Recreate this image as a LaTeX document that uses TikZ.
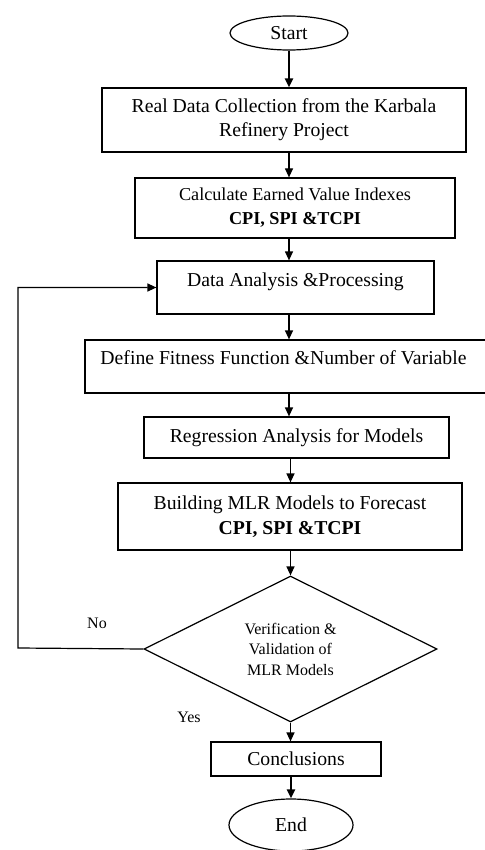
\documentclass[tikz,border=0pt]{standalone}
\usepackage{fontspec}
\setmainfont{Liberation Serif}
\usepackage{tikz}
\usetikzlibrary{shapes,arrows,arrows.meta,positioning}

\begin{document}
\begin{tikzpicture}[x=1pt, y=1pt, font=\fontsize{19.7}{25}\selectfont]
    \tikzstyle{box} = [rectangle, draw=black, line width=1.2pt, align=center, inner sep=2pt]
    \tikzstyle{term} = [ellipse, draw=black, line width=1.2pt, inner sep=0pt]
    \tikzstyle{check} = [diamond, draw=black, line width=1.2pt, inner sep=0pt, aspect=2, align=center, font=\fontsize{16}{20.5}\selectfont]
    \tikzstyle{arrow} = [-{Triangle[length=9pt,width=8pt]}, line width=1.2pt]
    \tikzstyle{lbl} = [font=\fontsize{16}{20}\selectfont]

    \useasboundingbox (0,0) rectangle (484,-850);

    \node [term, minimum width=118, minimum height=34] (start) at (289,-33) {Start};
    \node [box, minimum width=364, minimum height=64, font=\fontsize{19.7}{24}\selectfont] (collect) at (284,-120) {Real Data Collection from the Karbala\\Refinery Project};
    \node [box, minimum width=320, minimum height=60, font=\fontsize{18.2}{24}\selectfont] (indexes) at (295,-208) {Calculate Earned Value Indexes\\\textbf{CPI, SPI \&TCPI}};
    \node [box, minimum width=277, minimum height=53, text depth=16pt] (analysis) at (295.5,-287.5) {Data Analysis \&Processing};
    \node [box, minimum width=410, minimum height=53, text depth=17pt] (fitness) at (290,-366.5) {\hspace*{-13pt}Define Fitness Function \&Number of Variable};
    \node [box, minimum width=305, minimum height=41] (regress) at (296.5,-437.5) {Regression Analysis for Models};
    \node [box, minimum width=344, minimum height=67] (mlr) at (290,-516.5) {Building MLR Models to Forecast\\\textbf{CPI, SPI \&TCPI}};
    \node [check, minimum width=293, minimum height=146] (verify) at (290.5,-649) {Verification \&\\Validation of\\MLR Models};
    \node [box, minimum width=170, minimum height=34] (concl) at (296,-759) {Conclusions};
    \node [term, minimum width=124, minimum height=52] (end) at (291,-825) {End};

    \node [lbl] (no) at (97,-623) {No};
    \node [lbl] (yes) at (189,-717) {Yes};
    \coordinate (back) at (18,-648);

    \draw [arrow, line width=2pt] (start.south) -- (start.south |- collect.north);
    \draw [arrow] (collect.south -| start) -- (indexes.north -| start);
    \draw [arrow] (indexes.south -| start) -- (analysis.north -| start);
    \draw [arrow] (analysis.south -| start) -- (fitness.north -| start);
    \draw [arrow] (fitness.south -| start) -- (regress.north -| start);
    \draw [arrow] (regress.south -| verify) -- (mlr.north -| verify);
    \draw [arrow] (mlr.south -| verify) -- (verify.north);
    \draw [arrow] (verify.south) -- (verify.south |- concl.north);
    \draw [arrow, line width=2pt] (concl.south -| end) -- (end.north);
    \draw [arrow] (verify.west) -- (back) |- (analysis.west);
\end{tikzpicture}
\end{document}
